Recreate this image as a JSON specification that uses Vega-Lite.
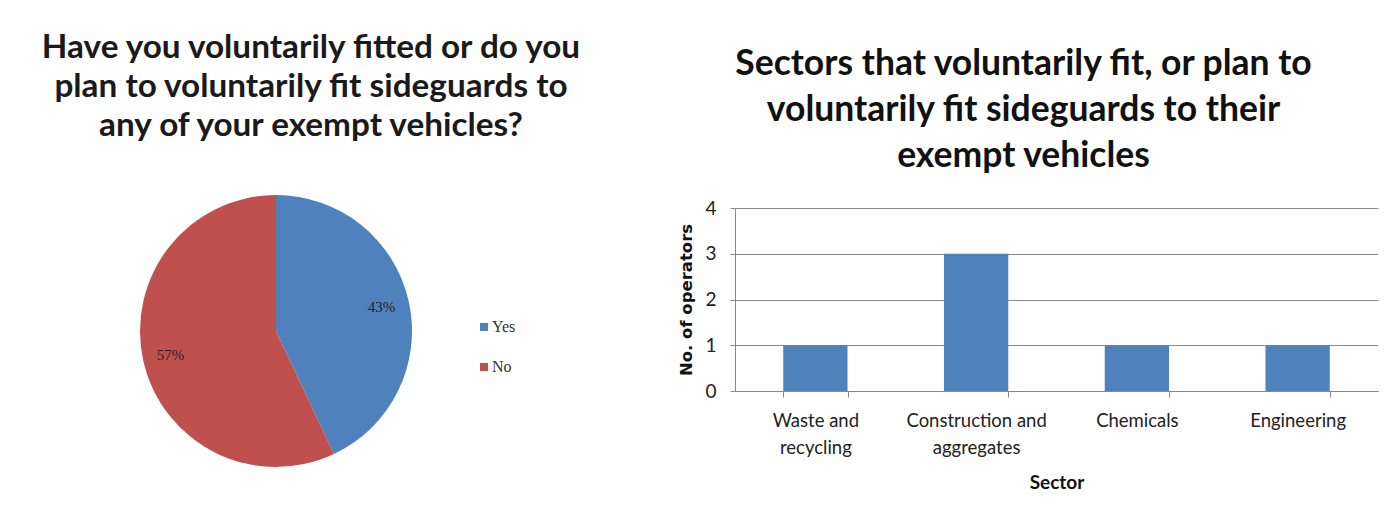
{
  "$schema": "https://vega.github.io/schema/vega-lite/v6.json",
  "background": "white",
  "padding": {"left": 39, "top": 30, "right": 5, "bottom": 5},
  "bounds": "flush",
  "spacing": 270,
  "config": {"view": {"stroke": null}, "font": "Lato"},
  "hconcat": [
    {
      "width": 378,
      "height": 246,
      "title": {
        "text": ["Have you voluntarily fitted or do you", "plan to voluntarily fit sideguards to", "any of your exempt vehicles?"],
        "font": "Lato", "fontSize": 33.3, "fontWeight": "bold", "lineHeight": 39,
        "offset": 52, "dx": 35, "color": "#1a1a1a", "anchor": "middle"
      },
      "data": {"values": [
        {"answer": "Yes", "share": 0.43, "rank": 1},
        {"answer": "No", "share": 0.57, "rank": 2}
      ]},
      "layer": [
        {
          "mark": {"type": "arc", "outerRadius": 136},
          "encoding": {
            "theta": {"field": "share", "type": "quantitative", "stack": true},
            "order": {"field": "rank", "type": "quantitative"},
            "color": {
              "field": "answer", "type": "nominal",
              "scale": {"domain": ["Yes", "No"], "range": ["#4F81BD", "#C0504D"]},
              "legend": {
                "orient": "none", "legendX": 389, "legendY": 111, "title": null,
                "symbolType": "square", "symbolSize": 64, "symbolStrokeWidth": 0,
                "labelFont": "Liberation Serif", "labelFontSize": 16, "labelColor": "#333",
                "rowPadding": 24, "labelOffset": 0, "padding": 0
              }
            }
          }
        },
        {
          "mark": {"type": "text", "radius": 108, "font": "Liberation Serif", "fontSize": 15, "color": "#222"},
          "encoding": {
            "theta": {"field": "share", "type": "quantitative", "stack": true},
            "order": {"field": "rank", "type": "quantitative"},
            "detail": {"field": "answer", "type": "nominal"},
            "text": {"field": "share", "type": "quantitative", "format": ".0%"}
          }
        }
      ]
    },
    {
      "width": 643,
      "height": 183,
      "title": {
        "text": ["Sectors that voluntarily fit, or plan to", "voluntarily fit sideguards to their", "exempt vehicles"],
        "font": "Lato", "fontSize": 35.5, "fontWeight": "bold", "lineHeight": 46,
        "offset": 25, "dx": -33, "color": "#111", "anchor": "middle"
      },
      "data": {"values": [
        {"sector": "Waste and recycling", "operators": 1},
        {"sector": "Construction and aggregates", "operators": 3},
        {"sector": "Chemicals", "operators": 1},
        {"sector": "Engineering", "operators": 1}
      ]},
      "mark": {"type": "bar", "color": "#4F81BD"},
      "encoding": {
        "x": {
          "field": "sector", "type": "nominal", "sort": null,
          "scale": {"paddingInner": 0.6, "paddingOuter": 0.3},
          "axis": {
            "labelAngle": 0, "tickBand": "extent", "domainColor": "#888", "tickColor": "#888",
            "tickSize": 6, "labelFont": "Lato", "labelFontSize": 18.5, "labelColor": "#222",
            "labelLineHeight": 27, "labelPadding": 14,
            "labelExpr": "split(replace(datum.label, ' and ', ' and|'), '|')",
            "title": "Sector", "titleFont": "Lato", "titleFontSize": 19, "titleFontWeight": "bold",
            "titleColor": "#111", "titlePadding": 17
          }
        },
        "y": {
          "field": "operators", "type": "quantitative",
          "scale": {"domain": [0, 4]},
          "axis": {
            "values": [0, 1, 2, 3, 4], "grid": true, "gridColor": "#8c8c8c", "domainColor": "#888",
            "tickColor": "#888", "tickSize": 5, "labelFont": "Lato", "labelFontSize": 19,
            "labelColor": "#222", "labelPadding": 14,
            "title": "No. of operators", "titleFont": "DejaVu Sans", "titleFontSize": 16.5,
            "titleFontWeight": "bold", "titleColor": "#111", "titlePadding": 10
          }
        }
      }
    }
  ]
}
